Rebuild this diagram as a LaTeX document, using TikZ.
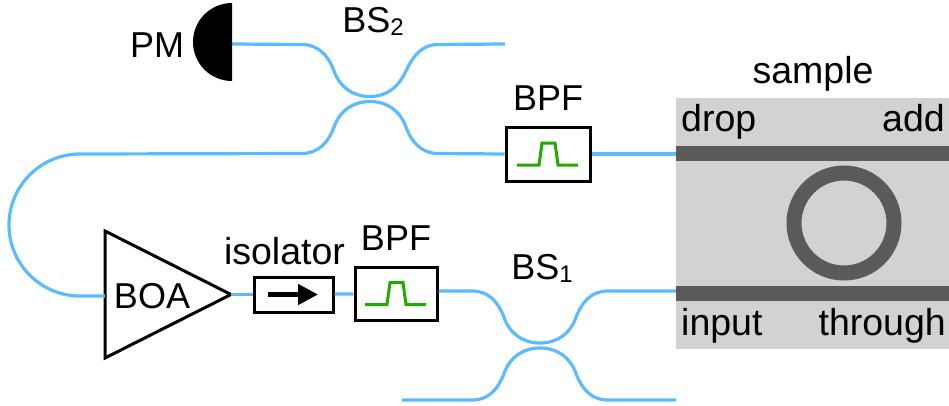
\documentclass[tikz,border=0pt]{standalone}
\usepackage{fontspec}
\setmainfont{Liberation Sans}
\usepackage{xcolor}
\usetikzlibrary{arrows.meta, positioning, calc, shapes.geometric}

\definecolor{fibrecol}{HTML}{5CBBFF}
\definecolor{chipcol}{HTML}{D2D2D2}
\definecolor{guidecol}{HTML}{5A5A5A}
\definecolor{passcol}{HTML}{22AA00}

\newcommand{\bssub}[1]{\raisebox{-3pt}{\fontsize{24}{24}\selectfont #1}}

\tikzset{
  lab/.style={inner sep=0pt, font=\fontsize{36}{36}\selectfont},
  lowlab/.style={inner sep=0pt, font=\fontsize{37.5}{37.5}\selectfont},
  fibre/.style={draw=fibrecol, line width=3.2pt},
  devbox/.style={draw=black, line width=3pt, fill=white, inner sep=0pt},
  guide/.style={draw=guidecol, line width=15pt},
}

\begin{document}
\begin{tikzpicture}[x=1pt, y=-1pt, >=Stealth]
  \useasboundingbox (0,0) rectangle (949,405);

  % chip
  \node[fill=chipcol, minimum width=273pt, minimum height=251pt, inner sep=0pt] (sample) at (812.5,223.5) {};
  \coordinate (dropport) at (676,153.5);
  \coordinate (inport) at (676,293.5);
  \draw[guide] (dropport) -- (dropport -| sample.east);
  \draw[guide] (inport) -- (inport -| sample.east);
  \node[circle, draw=guidecol, line width=15pt, minimum size=100pt, inner sep=0pt] (ring) at (844,223) {};

  % components
  \node[isosceles triangle, isosceles triangle stretches, draw=black, line width=3pt, fill=white,
        minimum width=127pt, minimum height=126pt, inner sep=0pt, outer sep=0pt, anchor=apex] (boa) at (231,294.5) {};
  \node[devbox, minimum width=79pt, minimum height=35pt] (iso) at (293.5,294.5) {};
  \node[devbox, minimum width=82pt, minimum height=53pt] (bpfa) at (396,293.5) {};
  \node[devbox, minimum width=84pt, minimum height=54pt] (bpfb) at (548,154) {};
  \coordinate (pm) at (232,44);
  \coordinate (boain) at (105,296);
  \coordinate (looptop) at (80,154);

  % beam splitters
  \foreach \bsname/\bsx/\bsy/\bsw in {bsa/540/345.5/67.5, bsb/370/99/68} {
    \coordinate (\bsname-tl) at ({\bsx-\bsw},\bsy-54.5);
    \coordinate (\bsname-tm) at (\bsx,\bsy-2.5);
    \coordinate (\bsname-tr) at ({\bsx+\bsw},\bsy-54.5);
    \coordinate (\bsname-bl) at ({\bsx-\bsw},\bsy+54.5);
    \coordinate (\bsname-bm) at (\bsx,\bsy+2.5);
    \coordinate (\bsname-br) at ({\bsx+\bsw},\bsy+54.5);
    \coordinate (\bsname-ltm) at ({\bsx-36},\bsy-28);
    \coordinate (\bsname-rtm) at ({\bsx+36},\bsy-28);
    \coordinate (\bsname-lbm) at ({\bsx-36},\bsy+28);
    \coordinate (\bsname-rbm) at ({\bsx+36},\bsy+28);
  }
  \coordinate (bsbout) at (505,44);
  \coordinate (bsain) at (402,400);

  % fibres
  \draw[fibre] (pm) -- (bsb-tl) to[out=0,in=110] (bsb-ltm) to[out=-70,in=180] (bsb-tm)
    to[out=0,in=-115] (bsb-rtm) to[out=65,in=180] (bsb-tr) -- (bsbout);
  \draw[fibre] (bpfb.west) -- (bsb-br) to[out=180,in=-70] (bsb-rbm) to[out=110,in=0] (bsb-bm)
    to[out=180,in=70] (bsb-lbm) to[out=-110,in=0] (bsb-bl) -- (looptop)
    arc[start angle=90, end angle=270, radius=71pt] -- (boain);
  \draw[fibre] (boa.apex) -- (iso);
  \draw[fibre] (iso) -- (bpfa);
  \draw[fibre] (bpfb.east) -- (bpfb.east -| sample.west);
  \draw[fibre] (bpfa.east |- bsa-tl) -- (bsa-tl) to[out=0,in=110] (bsa-ltm) to[out=-70,in=180] (bsa-tm)
    to[out=0,in=-110] (bsa-rtm) to[out=70,in=180] (bsa-tr) -- (bsa-tr -| sample.west);
  \draw[fibre] (bsain) -- (bsa-bl) to[out=0,in=-110] (bsa-lbm) to[out=70,in=180] (bsa-bm)
    to[out=0,in=110] (bsa-rbm) to[out=-70,in=180] (bsa-br) -- (bsa-br -| sample.west);

  \fill (232,3) arc[start angle=90, end angle=270, radius=39pt] -- cycle;

  % contents of the boxes
  \draw[-{Triangle[length=20pt,width=20pt]}, line width=4.5pt] ([xshift=-25.5pt]iso.center) -- ([xshift=24.5pt]iso.center);
  \foreach \boxname in {bpfa, bpfb} {
    \draw[passcol, line width=3pt, shift={(\boxname.center)}] (-31,11) -- (-9,11) -- (-6,-11) -- (7,-11) -- (10,11) -- (30,11);
  }

  % labels
  \node[lab, anchor=base] (pmlab) at (157,57) {PM};
  \node[lab, anchor=base] (bsblab) at (373,32) {BS\bssub{2}};
  \node[lab, anchor=base] (bsalab) at (542,279) {BS\bssub{1}};
  \node[lab, above=15pt of bpfb] (bpfblab) {BPF};
  \node[lab, above=15pt of bpfa] (bpfalab) {BPF};
  \node[lowlab, anchor=base] (isolab) at (284.5,264) {isolator};
  \node[lab, anchor=base] (boalab) at (152,308) {BOA};
  \node[lowlab, anchor=base] (samplelab) at (813,83) {sample};
  \node[lowlab, anchor=base west] (droplab) at (681,131) {drop};
  \node[lowlab, anchor=base east] (addlab) at (945,131) {add};
  \node[lowlab, anchor=base west] (inputlab) at (681,335) {input};
  \node[lowlab, anchor=base east] (throughlab) at (946,335) {through};
\end{tikzpicture}
\end{document}
